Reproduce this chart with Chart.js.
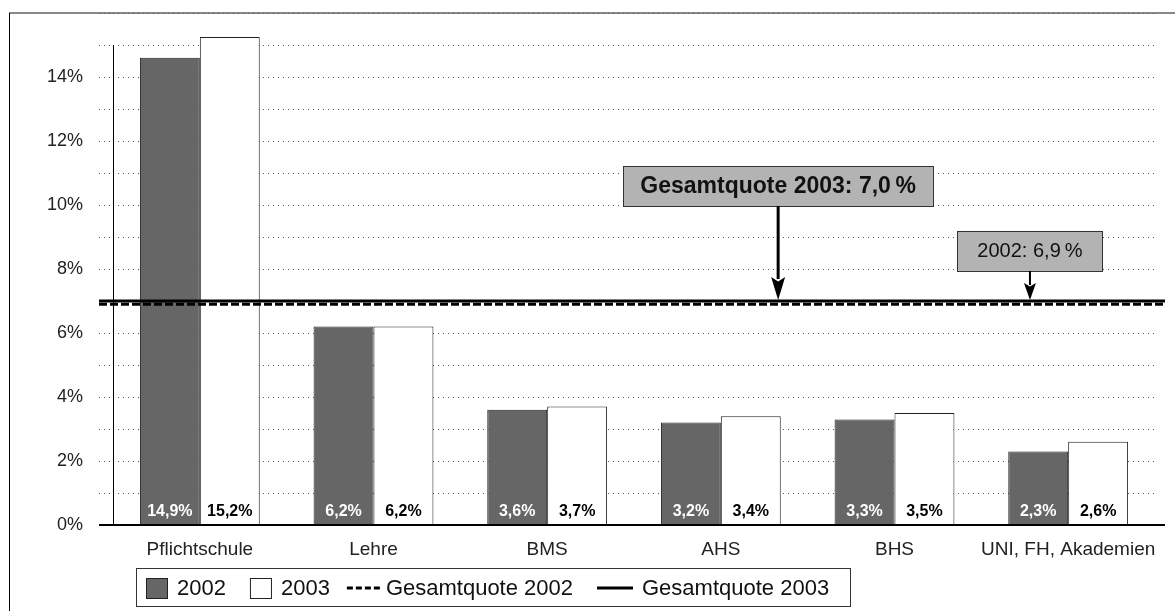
<!DOCTYPE html>
<html>
<head>
<meta charset="utf-8">
<script src="https://cdn.jsdelivr.net/npm/chart.js@4/dist/chart.umd.min.js"></script>
<style>
  html, body { margin: 0; padding: 0; background: #fff; }
  canvas { display: block; }
</style>
</head>
<body>
<canvas id="chart" width="1175" height="611"></canvas>
<script>
// Data
const categories = ['Pflichtschule', 'Lehre', 'BMS', 'AHS', 'BHS', 'UNI, FH, Akademien'];
const values2002 = [14.6, 6.2, 3.6, 3.2, 3.3, 2.3];
const values2003 = [15.25, 6.2, 3.7, 3.4, 3.5, 2.6];
const labels2002 = ['14,9%', '6,2%', '3,6%', '3,2%', '3,3%', '2,3%'];
const labels2003 = ['15,2%', '6,2%', '3,7%', '3,4%', '3,5%', '2,6%'];
const total2002 = 6.9;
const total2003 = 7.0;
const yTicks = [0, 2, 4, 6, 8, 10, 12, 14];
const legendLabels = ['2002', '2003', 'Gesamtquote 2002', 'Gesamtquote 2003'];

const FONT = '"Liberation Sans", Arial, sans-serif';
const DARK = '#666666';

// frame, axis lines, total lines, value labels, callouts, legend
const extras = {
  id: 'extras',
  beforeDraw(chart) {
    const ctx = chart.ctx;
    ctx.save();
    ctx.fillStyle = '#fff';
    ctx.fillRect(0, 0, chart.width, chart.height);
    ctx.strokeStyle = '#888';
    ctx.lineWidth = 2;
    ctx.beginPath();
    ctx.moveTo(9, 13);
    ctx.lineTo(chart.width, 13);
    ctx.stroke();
    ctx.strokeStyle = '#000';
    ctx.lineWidth = 1;
    ctx.beginPath();
    ctx.moveTo(9.5, 13);
    ctx.lineTo(9.5, chart.height);
    ctx.stroke();
    ctx.restore();
  },
  afterDatasetsDraw(chart) {
    const ctx = chart.ctx;
    const x = chart.scales.x, y = chart.scales.y;
    const area = chart.chartArea;
    ctx.save();

    // y axis line (from 15% down) and x axis line
    ctx.strokeStyle = '#000';
    ctx.lineWidth = 1;
    ctx.beginPath();
    ctx.moveTo(area.left + 0.5, y.getPixelForValue(15));
    ctx.lineTo(area.left + 0.5, y.getPixelForValue(0));
    ctx.stroke();
    ctx.lineWidth = 2;
    ctx.beginPath();
    ctx.moveTo(area.left - 14, y.getPixelForValue(0));
    ctx.lineTo(area.right + 10, y.getPixelForValue(0));
    ctx.stroke();

    // value labels at bar bottoms
    ctx.font = 'bold 16px ' + FONT;
    ctx.textAlign = 'center';
    ctx.textBaseline = 'middle';
    const m0 = chart.getDatasetMeta(0).data;
    const m1 = chart.getDatasetMeta(1).data;
    m0.forEach((b, i) => {
      ctx.fillStyle = '#fff';
      ctx.fillText(labels2002[i], b.x, y.getPixelForValue(0) - 13);
    });
    m1.forEach((b, i) => {
      ctx.fillStyle = '#000';
      ctx.fillText(labels2003[i], b.x, y.getPixelForValue(0) - 13);
    });

    // total lines
    const y03 = y.getPixelForValue(total2003);
    const y02 = y.getPixelForValue(total2002);
    ctx.strokeStyle = '#000';
    ctx.lineWidth = 3;
    ctx.beginPath();
    ctx.moveTo(area.left - 14, y03);
    ctx.lineTo(area.right + 10, y03);
    ctx.stroke();
    ctx.setLineDash([8, 3]);
    ctx.beginPath();
    ctx.moveTo(area.left - 14, y02);
    ctx.lineTo(area.right + 10, y02);
    ctx.stroke();
    ctx.setLineDash([]);

    // callouts
    const callout = (idx, top, bottom, text, font, pad, lw, head, tipY) => {
      const cx = x.getPixelForValue(idx);
      const yt = y.getPixelForValue(top), yb = y.getPixelForValue(bottom);
      ctx.font = font;
      const w = ctx.measureText(text).width + pad;
      ctx.fillStyle = '#b3b3b3';
      ctx.fillRect(cx - w / 2, yt, w, yb - yt);
      ctx.strokeStyle = '#333';
      ctx.lineWidth = 1;
      ctx.strokeRect(Math.round(cx - w / 2) + 0.5, Math.round(yt) + 0.5, Math.round(w), Math.round(yb - yt));
      ctx.fillStyle = '#111';
      ctx.textAlign = 'center';
      ctx.textBaseline = 'middle';
      ctx.fillText(text, cx, (yt + yb) / 2 + 1);
      ctx.strokeStyle = '#000';
      ctx.lineWidth = lw;
      ctx.beginPath();
      ctx.moveTo(cx, yb);
      ctx.lineTo(cx, tipY - head[1] + 2);
      ctx.stroke();
      ctx.fillStyle = '#000';
      ctx.beginPath();
      ctx.moveTo(cx - head[0] / 2, tipY - head[1]);
      ctx.lineTo(cx, tipY - head[1] * 0.8);
      ctx.lineTo(cx + head[0] / 2, tipY - head[1]);
      ctx.lineTo(cx, tipY);
      ctx.closePath();
      ctx.fill();
    };
    callout(3.33, 11.22, 9.97, 'Gesamtquote 2003: 7,0\u2009%', 'bold 23px ' + FONT, 34, 3, [14, 23], y03 - 1);
    callout(4.78, 9.19, 7.94, '2002: 6,9\u2009%', '20px ' + FONT, 40, 2, [12, 17], y03 - 1);

    ctx.restore();
  },
  afterDraw(chart) {
    const ctx = chart.ctx;
    ctx.save();
    const top = 568, bottom = 606, cy = 588;
    ctx.fillStyle = '#fff';
    ctx.fillRect(136, top, 714, bottom - top);
    ctx.strokeStyle = '#333';
    ctx.lineWidth = 1;
    ctx.strokeRect(136.5, top + 0.5, 714, bottom - top);
    ctx.font = '22px ' + FONT;
    ctx.textBaseline = 'middle';
    ctx.textAlign = 'left';
    let px = 146;
    // bar swatches
    [DARK, '#fff'].forEach((c, i) => {
      ctx.fillStyle = c;
      ctx.fillRect(px, cy - 10, 21, 20);
      ctx.strokeStyle = '#222';
      ctx.strokeRect(px + 0.5, cy - 9.5, 21, 20);
      px += 31;
      ctx.fillStyle = '#111';
      ctx.fillText(legendLabels[i], px, cy + 1);
      px += ctx.measureText(legendLabels[i]).width + 24;
    });
    px -= 7;
    // line swatches
    [[6, 3], []].forEach((dash, i) => {
      ctx.strokeStyle = '#000';
      ctx.lineWidth = 3;
      ctx.setLineDash(dash);
      ctx.beginPath();
      ctx.moveTo(px, cy);
      ctx.lineTo(px + 36, cy);
      ctx.stroke();
      ctx.setLineDash([]);
      px += 39 + (i ? 6 : 0);
      ctx.fillStyle = '#111';
      ctx.fillText(legendLabels[i + 2], px, cy + 1);
      px += ctx.measureText(legendLabels[i + 2]).width + 24;
    });
    ctx.restore();
  }
};

new Chart(document.getElementById('chart'), {
  type: 'bar',
  data: {
    labels: categories,
    datasets: [
      {
        label: '2002',
        data: values2002,
        backgroundColor: DARK,
        borderColor: '#222',
        borderWidth: 1
      },
      {
        label: '2003',
        data: values2003,
        backgroundColor: '#fff',
        borderColor: '#222',
        borderWidth: 1
      }
    ]
  },
  options: {
    responsive: false,
    animation: false,
    devicePixelRatio: 1,
    layout: { padding: { top: 13, left: 10, right: 20, bottom: 0 } },
    datasets: { bar: { categoryPercentage: 0.69, barPercentage: 1.0 } },
    plugins: { legend: { display: false }, tooltip: { enabled: false } },
    scales: {
      x: {
        grid: { display: false },
        border: { display: false },
        ticks: { color: '#222', font: { family: FONT, size: 19 }, padding: 5, maxRotation: 0, autoSkip: false },
        afterFit: (s) => { s.height = 86; s.paddingLeft = 0; s.paddingRight = 0; }
      },
      y: {
        min: 0,
        max: 16,
        grid: {
          color: '#555',
          lineWidth: 1,
          tickLength: 14,
          tickColor: '#555',
          tickBorderDash: [1, 4]
        },
        border: { display: false, dash: [1, 4] },
        ticks: {
          stepSize: 1,
          color: '#222',
          padding: 16,
          font: { family: FONT, size: 18 },
          callback: (v) => (yTicks.includes(v) ? v + '%' : '')
        },
        afterFit: (s) => { s.width = 103; s.paddingTop = 0; s.paddingBottom = 0; }
      }
    }
  },
  plugins: [extras]
});
</script>
</body>
</html>
